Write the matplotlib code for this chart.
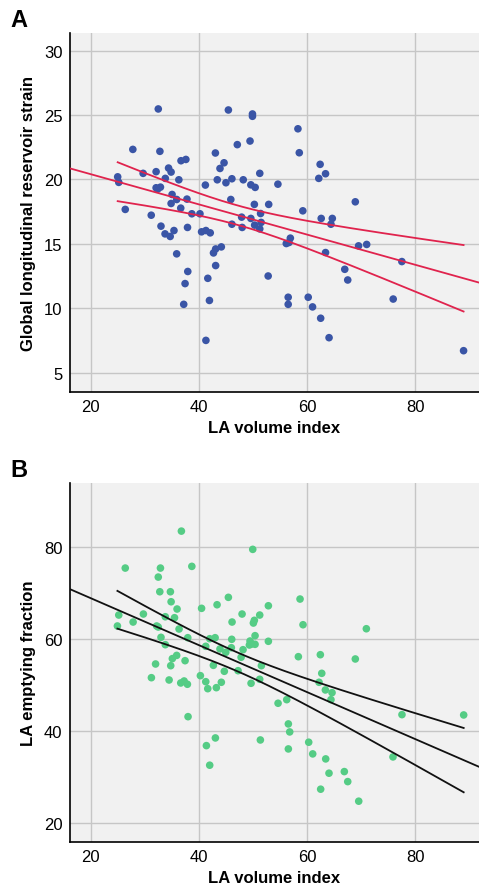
import numpy as np
import matplotlib
matplotlib.use("Agg")
import matplotlib.pyplot as plt

plt.rcParams['font.family'] = ['Liberation Sans', 'DejaVu Sans']

# ---- Panel A data: LA volume index vs Global longitudinal reservoir strain
a_x = [32.5, 45.45, 49.9, 49.9, 27.8, 32.8, 49.45, 47.1, 43.05, 36.7, 37.6, 44.65, 43.9, 32.1,
       29.7, 34.4, 34.87, 25.0, 25.2, 33.8, 36.3, 43.4, 46.1, 48.2, 51.25, 45.0, 41.2, 49.6,
       50.4, 32.1, 32.9, 32.4, 35.05, 34.87, 35.9, 37.8, 36.65, 45.9, 50.25, 52.9, 26.4, 31.2,
       38.7, 40.2, 47.9, 49.6, 51.4, 46.1, 48.0, 50.3, 51.25, 51.5, 33.0, 37.9, 33.75, 34.7,
       35.4, 40.5, 41.3, 42.1, 35.9, 42.7, 43.1, 44.15, 43.1, 37.95, 37.45, 41.65, 37.2, 41.95,
       41.3, 52.8, 58.3, 58.55, 62.4, 63.4, 62.15, 54.6, 68.9, 59.2, 62.6, 64.65, 64.4, 56.9,
       56.15, 56.65, 63.4, 69.5, 71.0, 77.5, 66.95, 67.5, 56.5, 56.5, 60.2, 61.0, 62.5, 64.05,
       75.9, 88.9]
a_y = [25.47, 25.39, 25.08, 24.9, 22.33, 22.18, 22.98, 22.7, 22.05, 21.45, 21.55, 21.29, 20.85, 20.6,
       20.47, 20.88, 20.57, 20.2, 19.77, 20.08, 19.97, 19.97, 20.05, 19.97, 20.47, 19.74, 19.56, 19.58,
       19.38, 19.35, 19.4, 19.25, 18.83, 18.13, 18.44, 18.47, 17.77, 18.44, 18.06, 18.06, 17.67, 17.22,
       17.33, 17.33, 17.07, 16.97, 17.35, 16.52, 16.27, 16.45, 16.16, 16.66, 16.37, 16.27, 15.77, 15.57,
       16.03, 15.93, 16.03, 15.85, 14.22, 14.29, 14.6, 14.76, 13.31, 12.85, 11.91, 12.32, 10.3, 10.6,
       7.5, 12.5, 23.93, 22.07, 21.17, 20.44, 20.08, 19.63, 18.26, 17.56, 16.97, 16.97, 16.52, 15.44,
       15.02, 15.1, 14.32, 14.84, 14.95, 13.62, 13.02, 12.19, 10.85, 10.3, 10.85, 10.1, 9.22, 7.71,
       10.71, 6.7]

# ---- Panel B data: LA volume index vs LA emptying fraction
b_x = [36.77, 49.95, 26.4, 32.9, 32.5, 38.7, 32.78, 34.74, 34.87, 45.45, 35.97, 40.5, 43.36, 52.84,
       25.2, 29.75, 33.8, 35.5, 47.98, 51.24, 50.07, 50.25, 46.13, 24.95, 27.85, 32.2, 32.5, 36.34,
       50.38, 52.84, 33.0, 37.95, 42.0, 43.0, 46.07, 49.45, 49.77, 49.33, 50.38, 33.8, 41.27, 43.9,
       44.97, 46.0, 48.16, 35.1, 35.9, 32.0, 34.8, 37.45, 42.68, 47.8, 44.7, 47.24, 51.55, 31.23,
       34.5, 36.65, 37.27, 37.88, 40.28, 41.27, 41.64, 43.23, 44.15, 49.64, 51.24, 38.0, 43.05, 41.39,
       42.0, 51.36, 58.69, 59.24, 70.94, 58.38, 62.44, 68.9, 62.7, 62.2, 63.37, 64.6, 64.4, 56.23,
       54.63, 77.52, 88.92, 56.53, 56.78, 56.53, 60.29, 61.03, 63.43, 64.04, 62.5, 66.87, 67.5, 69.53,
       75.86]
b_y = [83.54, 79.57, 75.5, 75.5, 73.54, 75.87, 70.35, 70.35, 68.17, 69.13, 66.59, 66.74, 67.52, 67.3,
       65.28, 65.5, 64.91, 64.7, 65.5, 65.28, 63.54, 64.13, 63.76, 62.9, 63.76, 62.9, 62.67, 62.24,
       60.79, 59.57, 60.43, 60.35, 60.13, 60.35, 60.0, 59.63, 58.98, 58.76, 58.91, 58.83, 58.48, 57.9,
       57.17, 58.17, 57.74, 55.8, 56.5, 54.63, 54.26, 55.35, 54.34, 56.09, 53.04, 53.17, 54.26, 51.65,
       51.15, 50.5, 50.93, 50.22, 52.09, 50.78, 49.26, 49.48, 50.65, 50.43, 51.3, 43.17, 38.54, 36.87,
       32.61, 38.1, 68.76, 63.17, 62.3, 56.22, 56.65, 55.72, 52.6, 50.65, 48.98, 48.39, 46.87, 46.87,
       46.09, 43.61, 43.54, 41.59, 39.85, 36.15, 37.61, 35.07, 33.98, 30.87, 27.39, 31.22, 29.04, 24.78,
       34.41]

x_ticks = [20, 40, 60, 80]
a_yticks = [5, 10, 15, 20, 25, 30]
b_yticks = [20, 40, 60, 80]
x_label = "LA volume index"
a_ylabel = "Global longitudinal reservoir strain"
b_ylabel = "LA emptying fraction"

T95 = 1.985


def fit_ci(x, y, xs):
    x = np.asarray(x, float)
    y = np.asarray(y, float)
    n = len(x)
    b1, b0 = np.polyfit(x, y, 1)
    res = y - (b0 + b1 * x)
    s = np.sqrt(np.sum(res ** 2) / (n - 2))
    sxx = np.sum((x - x.mean()) ** 2)
    yhat = b0 + b1 * xs
    half = T95 * s * np.sqrt(1.0 / n + (xs - x.mean()) ** 2 / sxx)
    return b0, b1, yhat, half


def panel(ax, x, y, color, lcolor, xlim, ylim, yticks, ylabel, letter):
    ax.set_facecolor('#f1f1f1')
    ax.set_xlim(*xlim)
    ax.set_ylim(*ylim)
    ax.set_xticks(x_ticks)
    ax.set_yticks(yticks)
    ax.grid(True, color='#c6c6c6', linewidth=1.0)
    ax.set_axisbelow(True)
    for s in ['top', 'right']:
        ax.spines[s].set_visible(False)
    for s in ['left', 'bottom']:
        ax.spines[s].set_linewidth(1.2)
        ax.spines[s].set_color('black')
    ax.tick_params(length=0, labelsize=12, pad=5)
    ax.scatter(x, y, s=30, color=color, edgecolors='none', zorder=3)
    xs_full = np.linspace(xlim[0], xlim[1], 200)
    b0, b1, yh, _ = fit_ci(x, y, xs_full)
    ax.plot(xs_full, yh, color=lcolor, lw=1.3, zorder=4, clip_on=True)
    xs = np.linspace(min(x), max(x), 200)
    _, _, yh2, half = fit_ci(x, y, xs)
    ax.plot(xs, yh2 + half, color=lcolor, lw=1.3, zorder=4)
    ax.plot(xs, yh2 - half, color=lcolor, lw=1.3, zorder=4)
    ax.set_xlabel(x_label, fontsize=12, fontweight='bold', labelpad=4)
    ax.set_ylabel(ylabel, fontsize=12, fontweight='bold', labelpad=6)
    ax.text(-0.145, 1.005, letter, transform=ax.transAxes, fontsize=17,
            fontweight='bold', ha='left', va='bottom')


fig = plt.figure(figsize=(4.79, 8.87), dpi=100)
axA = fig.add_axes([0.1451, 0.5569, 0.8549, 0.4048])
axB = fig.add_axes([0.1451, 0.0496, 0.8549, 0.4047])

panel(axA, a_x, a_y, '#3a55a6', '#e0234d', (16.1, 91.75), (3.49, 31.37), a_yticks, a_ylabel, 'A')
panel(axB, b_x, b_y, '#55cc85', '#111111', (16.1, 91.75), (15.9, 94.0), b_yticks, b_ylabel, 'B')

fig.savefig('out.png', dpi=100)
